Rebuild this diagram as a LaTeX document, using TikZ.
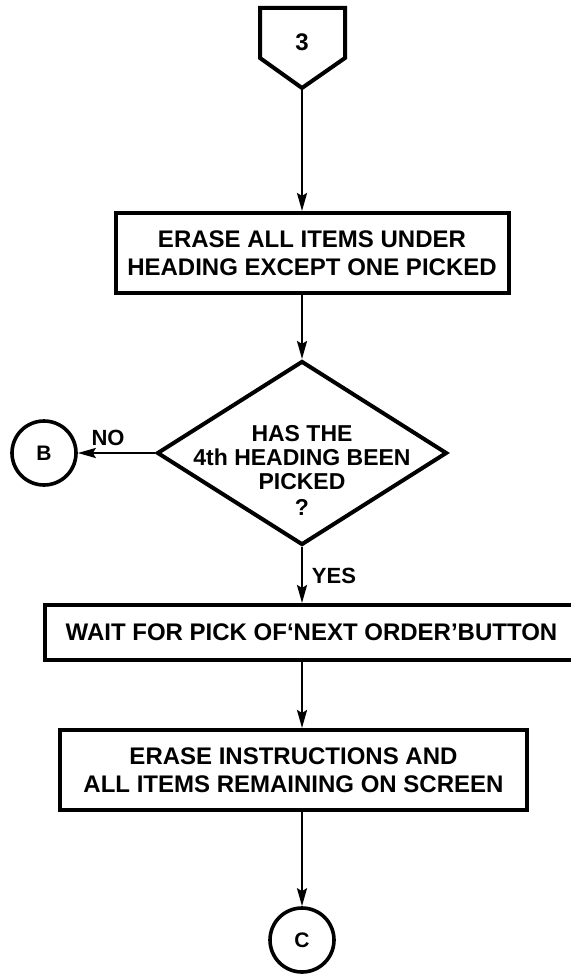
\documentclass[tikz,border=0pt]{standalone}
\usepackage{fontspec}
\setmainfont{Liberation Sans}
\usetikzlibrary{positioning}
\usetikzlibrary{shapes.geometric, arrows.meta}

\tikzset{
  shapeline/.style={line width=2pt},
  flowbox/.style={draw, line width=2pt, rectangle, inner sep=0pt, align=center,
    font=\bfseries\fontsize{12}{14}\selectfont},
  decision/.style={draw, line width=2pt, diamond, inner sep=0pt,
    minimum width=145pt, minimum height=92pt},
  connector/.style={draw, line width=1.8pt, circle, inner sep=0pt, minimum size=32pt,
    font=\bfseries\fontsize{10.5}{12}\selectfont},
  flowlabel/.style={font=\bfseries\fontsize{11}{12}\selectfont, inner sep=0pt},
  flowline/.style={line width=1.2pt, -{Stealth[length=9pt, width=5pt, inset=1.5pt]}},
}

\begin{document}
\begin{tikzpicture}[x=0.5pt, y=-0.5pt]

\useasboundingbox (0,0) rectangle (571,978);

% Off-page connector
\draw[shapeline] (260,8) -- (345,8) -- (345,58) -- (302,88) -- (260,58) -- cycle;
\node[font=\bfseries\fontsize{12}{14}\selectfont] (three) at (302,42) {3};
\coordinate (tip) at (302,88);

% Box nodes
\node[flowbox, minimum width=196.5pt, minimum height=40pt] (erase) at (312,253)
  {ERASE ALL ITEMS UNDER\\HEADING EXCEPT ONE PICKED};

% Decision
\node[decision] (ask) at (302,453) {};
\node[align=center, font=\bfseries\fontsize{11.5}{12}\selectfont] (asktext) at (302,470)
  {HAS THE\\4th HEADING BEEN\\PICKED\\[1pt]?};

% Circle nodes
\node[connector] (B) at (44,453) {B};

\node[flowbox, minimum width=266.5pt, minimum height=27.5pt] (wait) at (311.5,632.5)
  {WAIT FOR PICK OF‘NEXT ORDER’BUTTON};

\node[flowbox, minimum width=233.5pt, minimum height=40pt] (clear) at (293.5,770)
  {ERASE INSTRUCTIONS AND\\ALL ITEMS REMAINING ON SCREEN};

\node[connector] (C) at (302,940) {C};

% Arrows
\draw[flowline] (tip) -- (erase.north -| tip);
\draw[flowline] (erase.south -| tip) -- (ask.north);
\draw[flowline] (ask.west) -- (B.east);
\draw[flowline] (ask.south) -- (wait.north -| ask.south);
\draw[flowline] (wait.south -| ask.south) -- (clear.north -| ask.south);
\draw[flowline] (clear.south -| C) -- (C.north);

% Labels
\node[flowlabel] (no) at (108,438) {NO};
\node[flowlabel] (yes) at (334,576) {YES};

\end{tikzpicture}
\end{document}
